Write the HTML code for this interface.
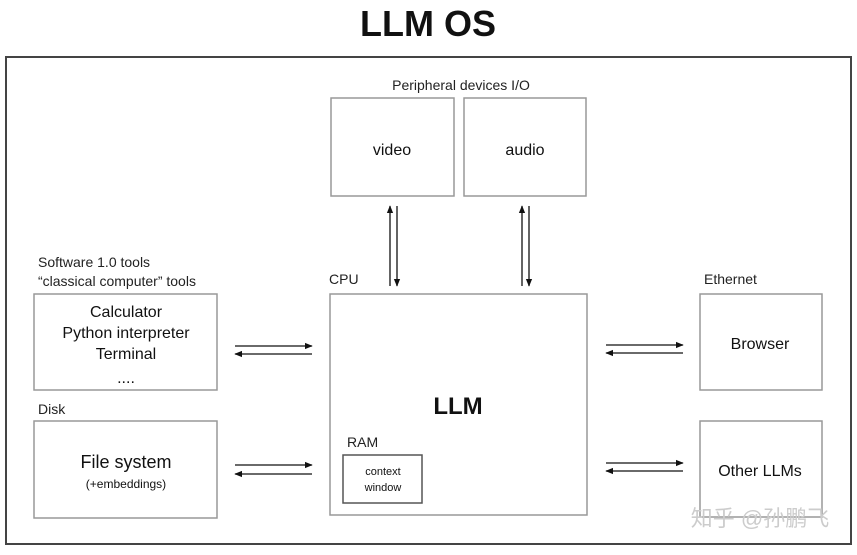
<!DOCTYPE html>
<html><head><meta charset="utf-8"><style>
body{margin:0;background:#fff;}
</style></head><body>
<svg width="857" height="550" xmlns="http://www.w3.org/2000/svg" font-family="Liberation Sans, Arial, sans-serif">
<defs><marker id="a" viewBox="0 0 10 10" refX="9" refY="5" markerWidth="6" markerHeight="6" orient="auto"><path d="M0,1 L10,5 L0,9z" fill="#111"/></marker></defs>
<text x="428" y="36" text-anchor="middle" font-size="36" font-weight="bold" fill="#111">LLM OS</text>
<rect x="6" y="57" width="845" height="487" fill="none" stroke="#444" stroke-width="2"/>
<g fill="none" stroke="#999" stroke-width="1.5">
<rect x="331" y="98" width="123" height="98"/>
<rect x="464" y="98" width="122" height="98"/>
<rect x="330" y="294" width="257" height="221"/>
<rect x="34" y="294" width="183" height="96"/>
<rect x="34" y="421" width="183" height="97"/>
<rect x="700" y="294" width="122" height="96"/>
<rect x="700" y="421" width="122" height="96"/>
</g>
<rect x="343" y="455" width="79" height="48" fill="none" stroke="#555" stroke-width="1.5"/>
<g fill="#222" font-size="14">
<text x="461" y="90" text-anchor="middle">Peripheral devices I/O</text>
<text x="38" y="267">Software 1.0 tools</text>
<text x="38" y="286">“classical computer” tools</text>
<text x="329" y="284">CPU</text>
<text x="704" y="284">Ethernet</text>
<text x="38" y="414">Disk</text>
<text x="347" y="447">RAM</text>
</g>
<g fill="#111" text-anchor="middle" font-size="16">
<text x="392" y="155">video</text>
<text x="525" y="155">audio</text>
<text x="126" y="317">Calculator</text>
<text x="126" y="338">Python interpreter</text>
<text x="126" y="359">Terminal</text>
<text x="126" y="383">....</text>
<text x="126" y="468" font-size="18">File system</text>
<text x="126" y="488" font-size="12">(+embeddings)</text>
<text x="760" y="349">Browser</text>
<text x="760" y="476">Other LLMs</text>
<text x="458" y="414" font-size="24" font-weight="bold">LLM</text>
<text x="383" y="475" font-size="11">context</text>
<text x="383" y="491" font-size="11">window</text>
</g>
<g stroke="#111" stroke-width="1.3" marker-end="url(#a)">
<line x1="390" y1="286" x2="390" y2="206"/>
<line x1="397" y1="206" x2="397" y2="286"/>
<line x1="522" y1="286" x2="522" y2="206"/>
<line x1="529" y1="206" x2="529" y2="286"/>
<line x1="235" y1="346" x2="312" y2="346"/>
<line x1="312" y1="354" x2="235" y2="354"/>
<line x1="235" y1="465" x2="312" y2="465"/>
<line x1="312" y1="474" x2="235" y2="474"/>
<line x1="606" y1="345" x2="683" y2="345"/>
<line x1="683" y1="353" x2="606" y2="353"/>
<line x1="606" y1="463" x2="683" y2="463"/>
<line x1="683" y1="471" x2="606" y2="471"/>
</g>
<text x="760" y="526" text-anchor="middle" font-size="22" fill="#ccc" font-family="Liberation Sans, Noto Sans CJK SC, sans-serif">知乎 @孙鹏飞</text>
</svg>
</body></html>
